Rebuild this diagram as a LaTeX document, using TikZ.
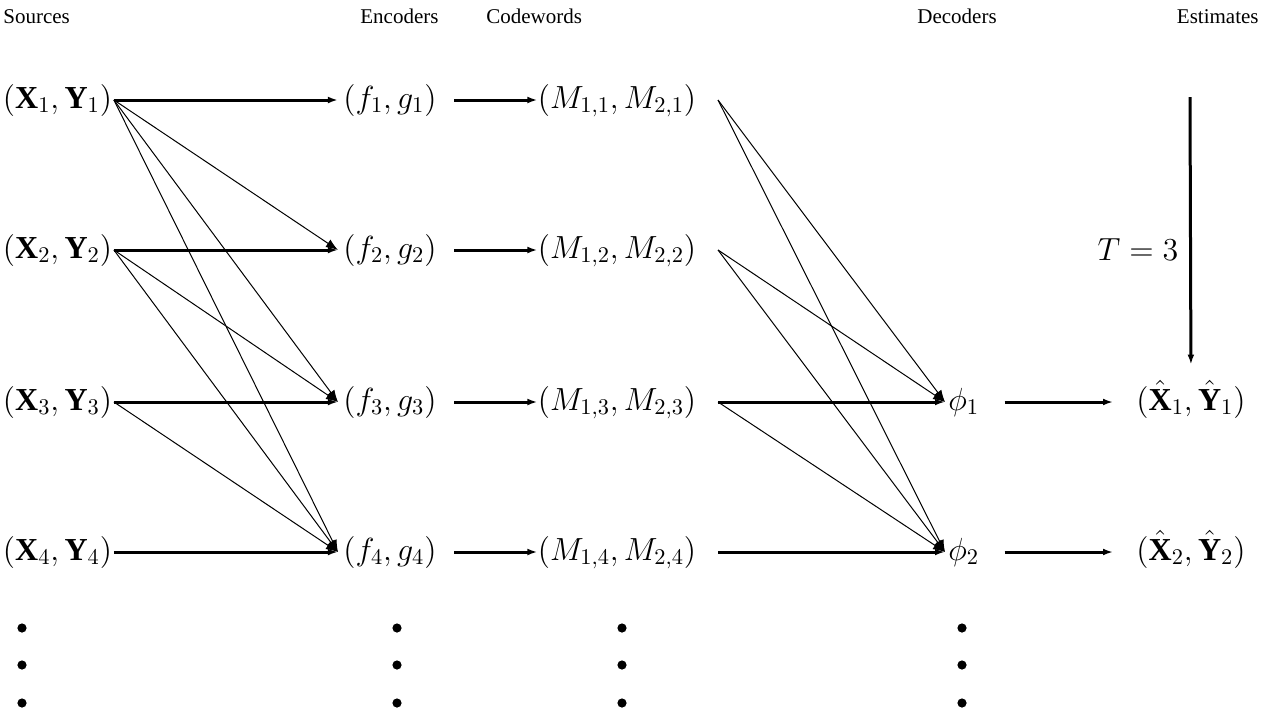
\RequirePackage{fix-cm}
\documentclass[tikz,border=0pt]{standalone}
\usepackage{fontspec}
\setmainfont{Liberation Serif}
\usetikzlibrary{arrows.meta}
\begin{document}
\begin{tikzpicture}[x=0.5pt,y=-0.5pt,
  lab/.style={inner ysep=0pt, inner xsep=0pt, text height=12pt, text depth=4pt, font=\fontsize{16}{19}\selectfont},
  hdr/.style={inner sep=0pt, anchor=base west, font=\fontsize{10.5}{12}\selectfont},
  bigarr/.style={line width=1.5pt, -{Latex[length=5pt,width=3.4pt]}},
  thinarr/.style={line width=0.5pt, -{Latex[length=6pt,width=4.5pt]}},
  bullet/.style={circle, fill=black, inner sep=0pt, minimum size=4.6pt}]
\useasboundingbox (0,0) rectangle (1264,714);
% headers
\node[hdr] (hS) at (3,23) {Sources};
\node[hdr] (hE) at (360,23) {Encoders};
\node[hdr] (hC) at (486,23) {Codewords};
\node[hdr] (hD) at (917,23) {Decoders};
\node[hdr, anchor=base east] (hT) at (1259,23) {Estimates};
% labels
\foreach \i/\y in {1/100,2/250,3/402,4/552}{
  \node[lab, inner xsep=0.75pt] (s\i) at (57.5,\y) {$(\mathbf{X}_{\i},\mathbf{Y}_{\i})$};
  \node[lab, inner xsep=2.5pt] (e\i) at (390,\y) {$(f_{\i},g_{\i})$};
  \node[lab] (c\i) at (617,\y) {$(M_{1,\i},M_{2,\i})$};
  \coordinate (eo\i) at ([xshift=6pt]e\i.east);
  \coordinate (co\i) at ([xshift=10.75pt]c\i.east);
}
\node[lab, inner xsep=1.5pt, anchor=west] (d1) at (945,402) {$\phi_1$};
\node[lab, inner xsep=1.5pt, anchor=west] (d2) at (945,552) {$\phi_2$};
\node[lab] (t1) at (1191,402) {$(\hat{\mathbf{X}}_1,\hat{\mathbf{Y}}_1)$};
\node[lab] (t2) at (1191,552) {$(\hat{\mathbf{X}}_2,\hat{\mathbf{Y}}_2)$};
\node[inner sep=0pt, font=\fontsize{16}{19}\selectfont] (tl) at (1138,250) {$T=3$};
\coordinate (ttop) at (1190,97);
\coordinate (do1) at ([xshift=11pt]d1.east);
\coordinate (do2) at ([xshift=11pt]d2.east);
\coordinate (ti1) at ([xshift=-11.5pt]t1.west);
\coordinate (ti2) at ([xshift=-11.5pt]t2.west);
% sources -> encoders -> codewords
\foreach \i in {1,...,4}{
  \draw[bigarr] (s\i.east) -- (e\i.west);
  \draw[bigarr] (eo\i) -- (c\i.west);
}
\draw[thinarr] (s1.east) -- (e2.west);
\draw[thinarr] (s1.east) -- (e3.west);
\draw[thinarr] (s1.east) -- (e4.west);
\draw[thinarr] (s2.east) -- (e3.west);
\draw[thinarr] (s2.east) -- (e4.west);
\draw[thinarr] (s3.east) -- (e4.west);
% codewords -> decoders
\draw[bigarr] (co3) -- (d1.west);
\draw[bigarr] (co4) -- (d2.west);
\draw[thinarr] (co1) -- (d1.west);
\draw[thinarr] (co1) -- (d2.west);
\draw[thinarr] (co2) -- (d1.west);
\draw[thinarr] (co2) -- (d2.west);
\draw[thinarr] (co3) -- (d2.west);
% decoders -> estimates
\draw[bigarr] (do1) -- (ti1);
\draw[bigarr] (do2) -- (ti2);
% window
\draw[bigarr, shorten >=10.5pt] (ttop) -- (t1.north);
% dots
\foreach \x/\n in {22/a,397/b,622/c,962/d}{
  \node[bullet] (\n1) at (\x,628) {};
  \node[bullet] (\n2) at (\x,665) {};
  \node[bullet] (\n3) at (\x,703) {};
}
\end{tikzpicture}
\end{document}
